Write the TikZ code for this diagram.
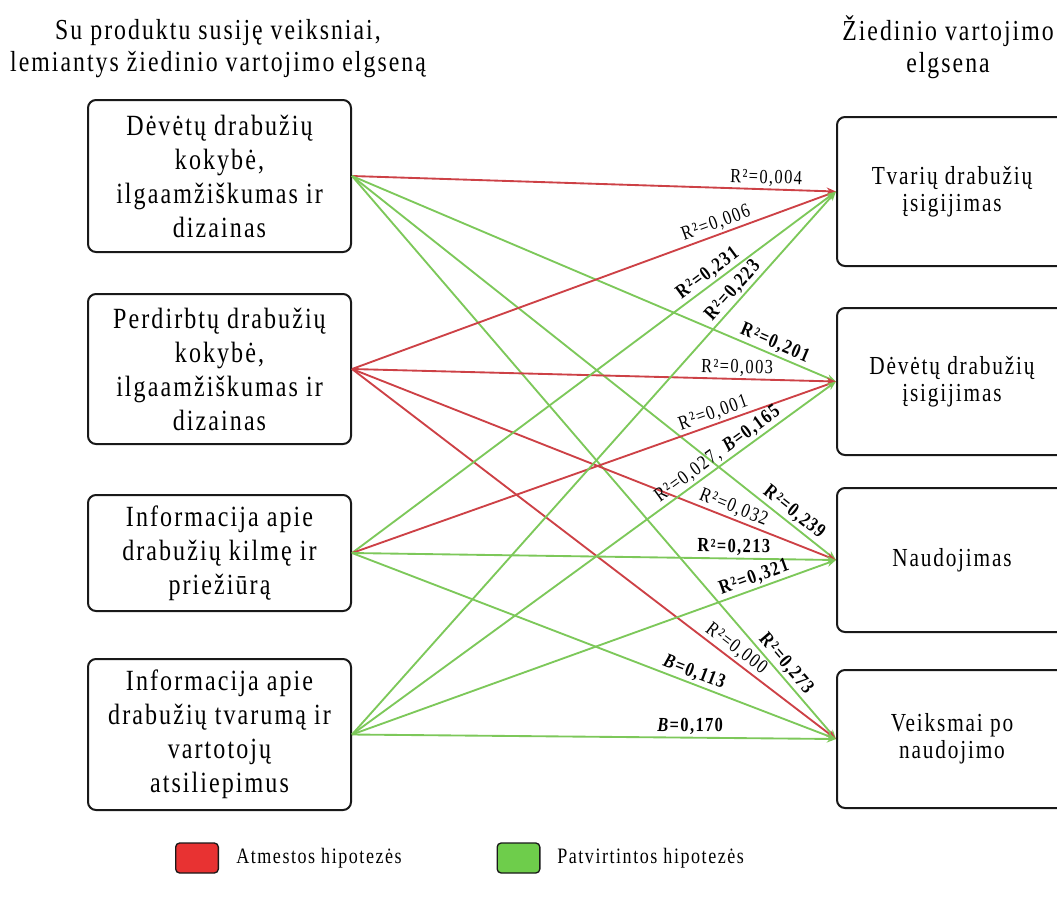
\documentclass[tikz,border=0pt]{standalone}
\usepackage{fontspec}
\setmainfont{Liberation Serif}[FakeStretch=0.82,LetterSpace=7]
\usetikzlibrary{arrows.meta}
\definecolor{lred}{RGB}{205,65,70}
\definecolor{lgreen}{RGB}{125,200,90}
\definecolor{legred}{RGB}{232,50,50}
\definecolor{leggreen}{RGB}{110,205,75}
\definecolor{boxline}{RGB}{25,25,25}
\tikzset{
  lbox/.style={draw=boxline, line width=1.5pt, rounded corners=6pt, align=center, inner sep=0pt,
    minimum width=197.25pt, font=\fontsize{22pt}{25.5pt}\selectfont},
  rbox/.style={draw=boxline, line width=1.5pt, rounded corners=6pt, align=center, inner sep=0pt,
    minimum width=172.5pt, font=\fontsize{19.5pt}{20.5pt}\selectfont},
  ttl/.style={align=center, inner sep=0pt, font=\fontsize{21.75pt}{24pt}\selectfont},
  rej/.style={draw=lred, line width=1.4pt, -{Stealth[length=7pt,width=5.5pt]}},
  acc/.style={draw=lgreen, line width=1.4pt, -{Stealth[length=7pt,width=5.5pt]}},
  lab/.style={sloped, above, inner sep=1.5pt, font=\fontsize{15pt}{17pt}\selectfont},
  legbox/.style={draw=boxline, line width=1pt, rounded corners=3pt, minimum width=32pt, minimum height=22.5pt, inner sep=0pt},
  legtxt/.style={anchor=west, inner sep=0pt, font=\fontsize{16.5pt}{18pt}\selectfont}
}
\newcommand{\Rsq}{R\kern1pt²}
\begin{document}
\begin{tikzpicture}[x=0.75pt,y=-0.75pt]
\useasboundingbox (0,0) rectangle (1057,901);
\clip (0,0) rectangle (1057,901);
% titles
\node[ttl] (t1) at (218,49) {Su produktu susiję veiksniai,\\lemiantys žiedinio vartojimo elgseną};
\node[ttl] (t2) at (948,47) {Žiedinio vartojimo\\elgsena};
% left boxes
\node[lbox, minimum height=114pt] (L1) at (219.5,176) {Dėvėtų drabužių\\kokybė,\\ilgaamžiškumas ir\\dizainas};
\node[lbox, minimum height=112.5pt] (L2) at (219.5,369) {Perdirbtų drabužių\\kokybė,\\ilgaamžiškumas ir\\dizainas};
\node[lbox, minimum height=87pt] (L3) at (219.5,553) {Informacija apie\\drabužių kilmę ir\\priežiūrą};
\node[lbox, minimum height=113.25pt] (L4) at (219.5,734.5) {Informacija apie\\drabužių tvarumą ir\\vartotojų\\atsiliepimus};
% right boxes
\node[rbox, minimum height=111.75pt] (R1) at (952,191.5) {Tvarių drabužių\\įsigijimas};
\node[rbox, minimum height=110.25pt] (R2) at (952,381.5) {Dėvėtų drabužių\\įsigijimas};
\node[rbox, minimum height=108pt] (R3) at (952,560) {Naudojimas};
\node[rbox, minimum height=103.5pt] (R4) at (952,739) {Veiksmai po\\naudojimo};
% connectors
\draw[rej] (L1.east) -- node[lab, pos=0.855] {\Rsq=0,004} (R1.west);
\draw[acc] (L1.east) -- node[lab, pos=0.866] {\textbf{\Rsq=0,201}} (R2.west);
\draw[acc] (L1.east) -- node[lab, pos=0.90] {\textbf{\Rsq=0,239}} (R3.west);
\draw[acc] (L1.east) -- node[lab, pos=0.88] {\textbf{\Rsq=0,273}} (R4.west);
\draw[rej] (L2.east) -- node[lab, pos=0.76] {\Rsq=0,006} (R1.west);
\draw[rej] (L2.east) -- node[lab, pos=0.795] {\Rsq=0,003} (R2.west);
\draw[rej] (L2.east) -- node[lab, pos=0.78] {\Rsq=0,032} (R3.west);
\draw[rej] (L2.east) -- node[lab, pos=0.78] {\Rsq=0,000} (R4.west);
\draw[acc] (L3.east) -- node[lab, pos=0.75] {\textbf{\Rsq=0,231}} (R1.west);
\draw[rej] (L3.east) -- node[lab, pos=0.754] {\Rsq=0,001} (R2.west);
\draw[acc] (L3.east) -- node[lab, pos=0.79] {\textbf{\Rsq=0,213}} (R3.west);
\draw[acc] (L3.east) -- node[lab, pos=0.70] {\textbf{\textit{B}=0,113}} (R4.west);
\draw[acc] (L4.east) -- node[lab, pos=0.805] {\textbf{\Rsq=0,223}} (R1.west);
\draw[acc] (L4.east) -- node[lab, pos=0.77] {\Rsq=0,027, \textbf{\textit{B}=0,165}} (R2.west);
\draw[acc] (L4.east) -- node[lab, pos=0.84] {\textbf{\Rsq=0,321}} (R3.west);
\draw[acc] (L4.east) -- node[lab, pos=0.70] {\textbf{\textit{B}=0,170}} (R4.west);
% legend
\node[legbox, fill=legred] (kr) at (197,858) {};
\node[legtxt] (kt) at (236,858) {Atmestos hipotezės};
\node[legbox, fill=leggreen] (kg) at (518.5,858) {};
\node[legtxt] (gt) at (557,858) {Patvirtintos hipotezės};
\end{tikzpicture}
\end{document}
